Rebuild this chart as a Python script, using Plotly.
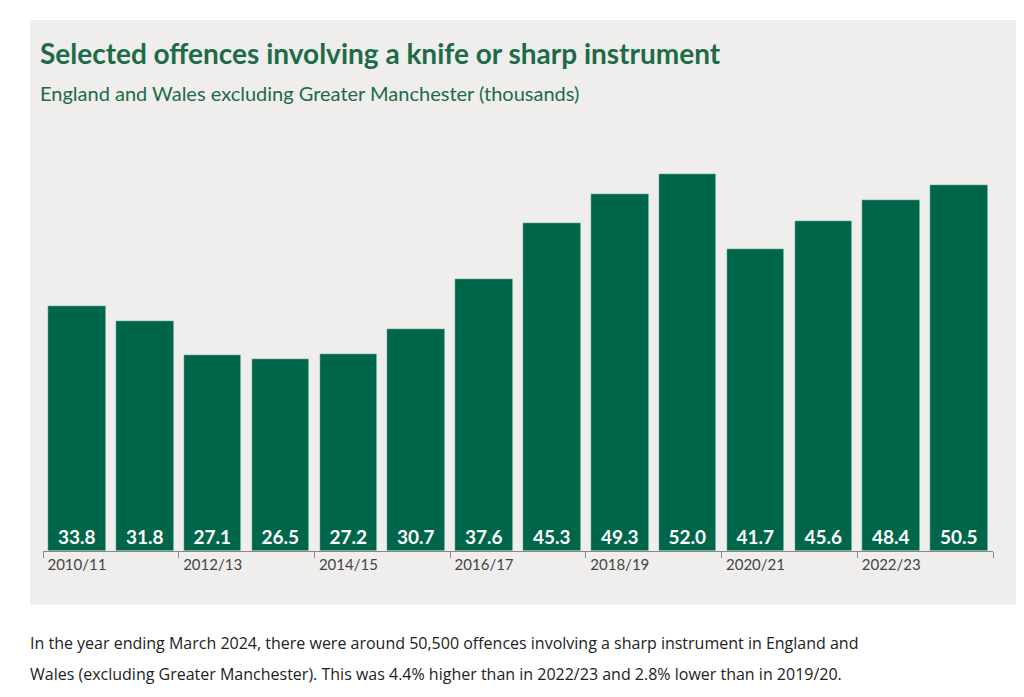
import plotly.graph_objects as go

years = ["2010/11","2011/12","2012/13","2013/14","2014/15","2015/16","2016/17",
         "2017/18","2018/19","2019/20","2020/21","2021/22","2022/23","2023/24"]
values = [33.8,31.8,27.1,26.5,27.2,30.7,37.6,45.3,49.3,52.0,41.7,45.6,48.4,50.5]
tick_idx = [0,2,4,6,8,10,12]

W, H = 1024, 697
green = "#00664a"
x = list(range(len(years)))

fig = go.Figure(go.Bar(
    x=x, y=values, width=0.85, marker_color=green,
    text=[f"{v:.1f}" for v in values], textposition="inside",
    insidetextanchor="start", textangle=0,
    textfont=dict(color="white", size=19, family="Lato", weight="bold"),
    cliponaxis=False,
))
fig.update_layout(
    width=W, height=H, margin=dict(l=0, r=0, t=0, b=0),
    paper_bgcolor="white", plot_bgcolor="rgba(0,0,0,0)",
    showlegend=False, bargap=0,
    uniformtext=dict(minsize=19, mode="show"),
    xaxis=dict(domain=[35/W, 985/W], range=[-0.5, 13.5], tickvals=tick_idx,
               ticktext=[years[i] for i in tick_idx], ticks="", showgrid=False,
               showline=True, linecolor="#888", linewidth=1,
               tickfont=dict(family="Lato", size=15, color="#444"),
               minor=dict(tick0=-0.5, dtick=2, ticks="outside", ticklen=6,
                          tickcolor="#888", showgrid=False)),
    yaxis=dict(domain=[1-543/H, 1-130/H], range=[0, 57], visible=False),
    shapes=[dict(type="rect", xref="paper", yref="paper", layer="below",
                 x0=22/W, x1=1010/W, y0=1-597/H, y1=1-12/H,
                 fillcolor="#efeeed", line_width=0)],
    annotations=[
        dict(text="<b>Selected offences involving a knife or sharp instrument</b>",
             x=30/W, y=1-45/H, xref="paper", yref="paper", xanchor="left", yanchor="middle",
             showarrow=False, font=dict(family="Lato", size=28, color="#1d6b47")),
        dict(text="England and Wales excluding Greater Manchester (thousands)",
             x=30/W, y=1-85/H, xref="paper", yref="paper", xanchor="left", yanchor="middle",
             showarrow=False, font=dict(family="Lato", size=20, color="#1d6b47")),
        dict(text="In the year ending March 2024, there were around 50,500 offences involving a sharp instrument in England and",
             x=20/W, y=1-635/H, xref="paper", yref="paper", xanchor="left", yanchor="middle",
             showarrow=False, font=dict(family="Open Sans", size=16, color="#222")),
        dict(text="Wales (excluding Greater Manchester). This was 4.4% higher than in 2022/23 and 2.8% lower than in 2019/20.",
             x=20/W, y=1-666/H, xref="paper", yref="paper", xanchor="left", yanchor="middle",
             showarrow=False, font=dict(family="Open Sans", size=16, color="#222")),
    ],
)
fig.write_html("out.html")
